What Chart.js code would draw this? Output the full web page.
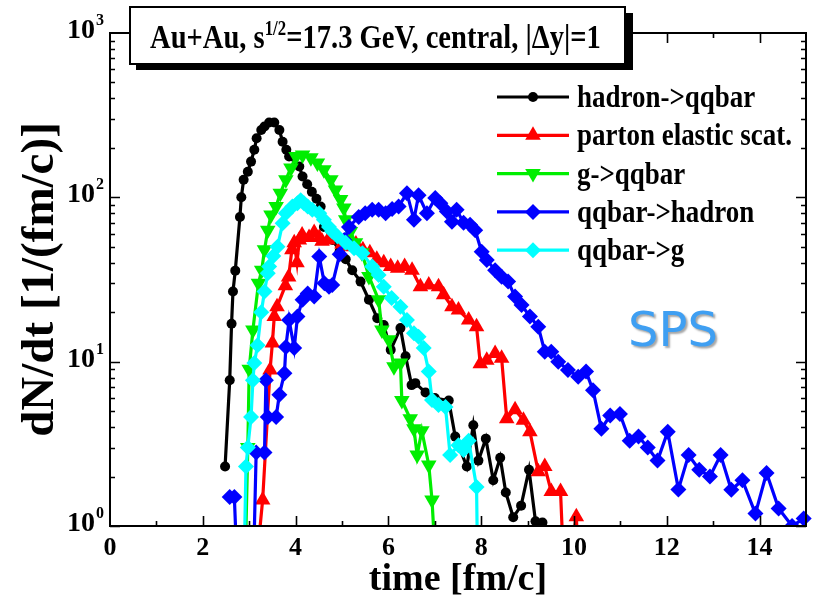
<!DOCTYPE html>
<html>
<head>
<meta charset="utf-8">
<title>dN/dt SPS</title>
<script src="https://cdn.jsdelivr.net/npm/chart.js@4.4.1/dist/chart.umd.min.js"></script>
<style>
  body { margin: 0; background: #fff; }
</style>
</head>
<body>
<canvas id="rates" width="814" height="605"></canvas>
<script>
// time [fm/c] and rate dN/dt [1/(fm/c)] for each channel
// (values under 1 only carry the line down through the bottom axis)
const hadronT = [2.48, 2.58, 2.62, 2.65, 2.70, 2.80, 2.83, 2.88, 2.97, 3.04, 3.11, 3.16, 3.26, 3.33, 3.43, 3.54, 3.65, 3.72, 3.80, 3.86, 4.08, 4.15, 4.25, 4.35, 4.45, 4.54, 4.61, 4.80, 4.95, 5.08, 5.22, 5.40, 5.58, 5.76, 5.90, 6.05, 6.26, 6.37, 6.50, 6.58, 6.80, 7.00, 7.30, 7.44, 7.69, 7.83, 7.94, 8.10, 8.26, 8.41, 8.53, 8.69, 8.86, 9.03, 9.17, 9.32]
const hadronN = [2.3, 7.7, 17, 26.7, 35.8, 76, 100, 128, 143, 165, 195, 229, 257, 270, 285, 285, 257, 218, 195, 177, 154, 134, 120, 108, 98, 88, 66, 55, 47, 42, 36, 30.7, 23.8, 18.4, 16.7, 11.8, 16, 10.8, 7.2, 7.4, 6.5, 6, 5.8, 3.5, 2.3, 4.1, 2.5, 3.4, 1.9, 2.6, 1.6, 1.13, 1.33, 2.2, 1.07, 1.05]

const elasticT = [3.10, 3.29, 3.45, 3.50, 3.54, 3.60, 3.78, 3.85, 3.92, 3.97, 4.03, 4.08, 4.14, 4.29, 4.40, 4.51, 4.57, 4.70, 4.85, 5.00, 5.15, 5.30, 5.45, 5.60, 5.75, 5.90, 6.05, 6.20, 6.35, 6.51, 6.69, 6.87, 7.08, 7.19, 7.37, 7.51, 7.73, 7.90, 7.98, 8.12, 8.30, 8.44, 8.55, 8.73, 8.91, 9.05, 9.23, 9.37, 9.51, 9.71, 9.80, 10.05, 10.12]
const elasticN = [0.4, 1.44, 8.9, 13, 18.8, 21.6, 29, 32.8, 48, 53, 40, 55, 59, 57, 61, 57, 54, 55, 57, 52, 50, 52, 48, 46, 42, 40, 38, 37, 38, 36, 28.6, 29.3, 28.6, 25.5, 21.6, 20.6, 17.9, 16.3, 9.7, 10.2, 11.2, 10.5, 4.5, 5.1, 4.4, 3.75, 2.14, 2.3, 1.62, 1.62, 0.4, 1.14, 0.4]

const gluonT = [2.90, 2.97, 3.00, 3.08, 3.20, 3.27, 3.33, 3.40, 3.47, 3.58, 3.67, 3.79, 3.90, 4.01, 4.15, 4.33, 4.47, 4.61, 4.76, 4.86, 4.97, 5.04, 5.08, 5.18, 5.29, 5.43, 5.58, 5.79, 5.86, 6.01, 6.12, 6.26, 6.29, 6.47, 6.55, 6.62, 6.72, 6.87, 6.94, 7.05]
const gluonN = [0.4, 3, 9, 15.6, 30, 36, 48, 63, 78, 88, 106, 128, 151, 177, 181, 174, 162, 147, 128, 111, 97, 86, 73, 62, 53, 46, 33, 23.8, 15.6, 13.6, 9.3, 9.8, 5.8, 4.5, 3.9, 2.7, 3.8, 2.35, 1.44, 0.4]

const hadronizT = [2.58, 2.68, 2.76, 3.08, 3.15, 3.33, 3.36, 3.40, 3.58, 3.65, 3.76, 3.79, 3.86, 3.97, 4.04, 4.15, 4.26, 4.40, 4.51, 4.62, 4.72, 4.79, 4.95, 5.05, 5.15, 5.36, 5.50, 5.65, 5.79, 5.94, 6.08, 6.22, 6.40, 6.55, 6.65, 6.83, 7.01, 7.12, 7.26, 7.37, 7.47, 7.62, 7.76, 7.87, 8.01, 8.12, 8.30, 8.44, 8.58, 8.73, 8.87, 9.05, 9.23, 9.37, 9.51, 9.66, 9.87, 10.09, 10.26, 10.41, 10.59, 10.78, 10.99, 11.20, 11.39, 11.59, 11.80, 12.02, 12.25, 12.47, 12.70, 12.93, 13.16, 13.39, 13.63, 13.91, 14.15, 14.41, 14.70, 14.95]
const hadronizN = [1.5, 1.5, 0.4, 0.4, 2.8, 2.8, 7.7, 4.6, 4.6, 6.3, 8.5, 12.3, 17.9, 12.1, 18.8, 23.8, 26, 24.9, 43.6, 30, 28.6, 29.3, 45, 55, 66, 76, 80, 84, 84, 80, 85, 88, 106, 73, 103, 80, 99, 92, 82, 71, 84, 70, 68, 63, 46.6, 41.6, 36, 32.9, 30.7, 24.9, 22.1, 18.8, 16.3, 11.5, 11.5, 10, 8.9, 8.1, 8.7, 6.7, 3.9, 4.7, 4.8, 3.3, 3.5, 3.0, 2.5, 3.75, 1.67, 2.7, 2.2, 2.0, 2.7, 1.66, 1.9, 1.19, 2.1, 1.28, 1.0, 1.11]

const annihT = [2.88, 2.93, 2.97, 3.04, 3.08, 3.11, 3.18, 3.26, 3.33, 3.40, 3.43, 3.52, 3.61, 3.72, 3.79, 3.93, 4.04, 4.11, 4.18, 4.26, 4.36, 4.51, 4.61, 4.72, 4.79, 4.90, 5.08, 5.26, 5.44, 5.65, 5.79, 5.90, 6.07, 6.26, 6.40, 6.55, 6.65, 6.76, 6.87, 6.94, 7.08, 7.23, 7.33, 7.51, 7.62, 7.73, 7.90, 7.93]
const annihN = [0.4, 2.3, 3.0, 4.6, 7.7, 9.8, 12.6, 20, 26.7, 34.5, 37.9, 44, 50, 69.5, 80, 88, 92, 96, 92, 88, 84, 80, 73, 66, 62, 58, 53, 49, 45.7, 37.9, 33.7, 28.6, 24.4, 21.6, 17.9, 14.9, 14.2, 12.1, 8.7, 5.85, 5.45, 5.3, 2.7, 3.1, 2.9, 3.3, 1.73, 0.4]

const seriesNames = ['hadron->qqbar', 'parton elastic scat.', 'g->qqbar', 'qqbar->hadron', 'qqbar->g']
const yDecades = [1, 10, 100, 1000]
const yExponents = ['0', '1', '2', '3']

const SERIF = '"Liberation Serif", "Times New Roman", serif'

function series(label, t, n, color, style, radius, rotation, order) {
  return {
    label: label,
    data: t.map((x, i) => ({ x: x, y: n[i] })),
    borderColor: color,
    backgroundColor: color,
    borderWidth: 3.2,
    pointStyle: style,
    pointRotation: rotation,
    markerSize: radius,
    pointRadius: ctx => (ctx.raw && ctx.raw.y < 1 ? 0 : radius),
    pointHoverRadius: radius,
    pointBorderWidth: 0,
    tension: 0,
    order: order,
    clip: { left: 10, top: 10, right: 10, bottom: 0 }
  }
}

// frame with inward major/minor ticks on all four sides
const frame = {
  id: 'frame',
  afterDraw(chart) {
    const { ctx, chartArea: a, scales: { x, y } } = chart
    ctx.save()
    ctx.strokeStyle = '#000'
    ctx.lineWidth = 2
    ctx.strokeRect(a.left, a.top, a.right - a.left, a.bottom - a.top)
    ctx.lineWidth = 1.6
    ctx.beginPath()
    for (let v = 1; v < 15; v++) {
      const px = Math.round(x.getPixelForValue(v)) + 0.5
      const len = v % 2 ? 5 : 10
      ctx.moveTo(px, a.bottom); ctx.lineTo(px, a.bottom - len)
      ctx.moveTo(px, a.top); ctx.lineTo(px, a.top + len)
    }
    for (let d = 1; d < 1000; d *= 10) {
      for (let m = 1; m < 10; m++) {
        const py = Math.round(y.getPixelForValue(d * m)) + 0.5
        const len = m === 1 ? 10 : 5
        ctx.moveTo(a.left, py); ctx.lineTo(a.left + len, py)
        ctx.moveTo(a.right, py); ctx.lineTo(a.right - len, py)
      }
    }
    ctx.stroke()

    // decade labels 10^n
    ctx.fillStyle = '#000'
    ctx.textBaseline = 'alphabetic'
    yDecades.forEach((v, i) => {
      const py = y.getPixelForValue(v)
      ctx.font = 'bold 28px ' + SERIF
      ctx.textAlign = 'right'
      ctx.fillText('10', 95, py + 5)
      ctx.font = 'bold 16px ' + SERIF
      ctx.textAlign = 'left'
      ctx.fillText(yExponents[i], 96, py - 8)
    })
    ctx.restore()
  }
}

// bold serif drawn narrower than it is tall, as in the plot's lettering
function condensedText(ctx, parts, left, baseline, sx) {
  ctx.save()
  ctx.translate(left, baseline)
  ctx.scale(sx, 1)
  let cx = 0
  parts.forEach(p => {
    ctx.font = p.font
    ctx.fillText(p.text, cx, p.dy || 0)
    cx += ctx.measureText(p.text).width
  })
  ctx.restore()
}

// header box, legend and the SPS tag
const annotations = {
  id: 'annotations',
  afterDraw(chart) {
    const ctx = chart.ctx
    ctx.save()
    ctx.fillStyle = '#000'
    ctx.fillRect(136, 13, 497, 57)
    ctx.fillStyle = '#fff'
    ctx.fillRect(130, 7, 495, 57)
    ctx.strokeStyle = '#000'
    ctx.lineWidth = 2
    ctx.strokeRect(130, 7, 495, 57)
    ctx.fillStyle = '#000'
    ctx.textAlign = 'left'
    ctx.textBaseline = 'alphabetic'
    condensedText(ctx, [
      { text: 'Au+Au, s', font: 'bold 34px ' + SERIF },
      { text: '1/2', font: 'bold 20px ' + SERIF, dy: -13 },
      { text: '=17.3 GeV, central, |\u0394y|=1', font: 'bold 34px ' + SERIF }
    ], 150, 48, 0.84)

    chart.data.datasets.forEach((ds, i) => {
      const y = 97 + i * 38.3
      ctx.strokeStyle = ds.borderColor
      ctx.fillStyle = ds.borderColor
      ctx.lineWidth = 3.2
      ctx.beginPath()
      ctx.moveTo(497, y); ctx.lineTo(569, y)
      ctx.stroke()
      Chart.helpers.drawPoint(ctx, {
        pointStyle: ds.pointStyle, rotation: ds.pointRotation,
        radius: ds.markerSize, borderWidth: 0
      }, 533, y)
      ctx.fillStyle = '#000'
      condensedText(ctx, [{ text: ds.label, font: 'bold 31px ' + SERIF }], 577, y + 10, 0.87)
    })

    ctx.font = '48px "DejaVu Sans", sans-serif'
    ctx.shadowColor = 'rgba(0,0,0,0.35)'
    ctx.shadowOffsetX = 2
    ctx.shadowOffsetY = 2
    ctx.shadowBlur = 2
    ctx.fillStyle = '#3f9ff2'
    ctx.fillText('SPS', 628, 346)
    ctx.restore()
  }
}

const chart = new Chart(document.getElementById('rates'), {
  type: 'line',
  data: {
    datasets: [
      series(seriesNames[0], hadronT, hadronN, '#000000', 'circle', 5, 0, 4),
      series(seriesNames[1], elasticT, elasticN, '#ff0000', 'triangle', 9, 0, 3),
      series(seriesNames[2], gluonT, gluonN, '#00ee00', 'triangle', 9, 180, 2),
      series(seriesNames[3], hadronizT, hadronizN, '#0000ff', 'rectRot', 8, 0, 1),
      series(seriesNames[4], annihT, annihN, '#00ffff', 'rectRot', 8, 0, 0)
    ]
  },
  options: {
    responsive: false,
    devicePixelRatio: 1,
    animation: false,
    layout: { padding: { top: 33, right: 4, bottom: 0, left: 0 } },
    plugins: {
      legend: { display: false },
      tooltip: { enabled: false }
    },
    scales: {
      x: {
        type: 'linear',
        min: 0,
        max: 15,
        afterFit: s => { s.height = 79 },
        border: { display: false },
        grid: { display: false, drawTicks: false },
        ticks: {
          stepSize: 2,
          includeBounds: false,
          maxRotation: 0,
          padding: 7,
          color: '#000',
          font: { family: SERIF, size: 26, weight: 'bold' }
        },
        title: {
          display: true,
          text: 'time [fm/c]',
          color: '#000',
          font: { family: SERIF, size: 38, weight: 'bold', lineHeight: 1 },
          padding: { top: 0, bottom: 6 }
        }
      },
      y: {
        type: 'logarithmic',
        min: 1,
        max: 1000,
        afterFit: s => { s.width = 110 },
        border: { display: false },
        grid: { display: false, drawTicks: false },
        ticks: { display: false },
        title: {
          display: true,
          text: 'dN/dt [1/(fm/c)]',
          color: '#000',
          font: { family: SERIF, size: 47, weight: 'bold', lineHeight: 1 },
          padding: { top: 17, bottom: 0 }
        }
      }
    }
  },
  plugins: [frame, annotations]
})
</script>
</body>
</html>
